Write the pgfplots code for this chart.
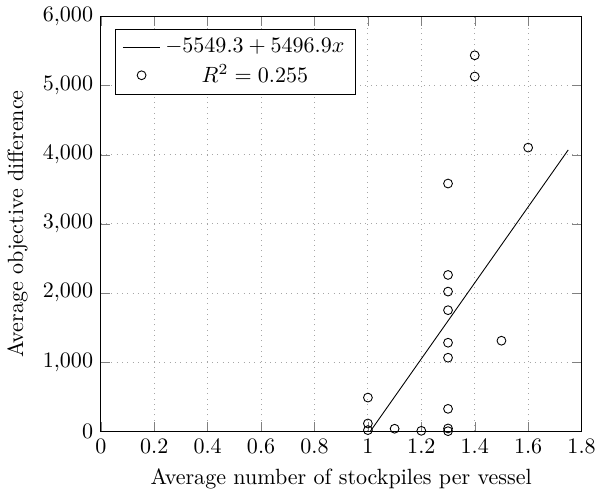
\documentclass[border=0pt]{standalone}
\usepackage{pgfplots}
\pgfplotsset{compat=1.18}
\begin{document}
\begin{tikzpicture}
\begin{axis}[
  scale only axis,
  width=218pt, height=188pt,
  xmin=0, xmax=1.8, ymin=0, ymax=6000,
  xtick={0,0.2,...,1.8},
  ytick={0,1000,...,6000},
  scaled y ticks=false,
  grid=major,
  grid style={dotted, gray!70},
  xlabel={Average number of stockpiles per vessel},
  ylabel={Average objective difference},
  legend pos=north west,
  legend cell align=center,
]
\addplot[black, no markers] coordinates {(1.0,-52.4) (1.75,4070.3)};
\addlegendentry{$-5549.3 + 5496.9x$}
\addplot[only marks, mark=o, black] coordinates {
(1.0,486) (1.0,111) (1.0,15)
(1.1,35) (1.2,5)
(1.3,39) (1.3,0) (1.3,323) (1.3,1063) (1.3,1280) (1.3,1751) (1.3,2020) (1.3,2261) (1.3,3584)
(1.4,5133) (1.4,5440)
(1.5,1309)
(1.6,4104)
};
\addlegendentry{$R^2 = 0.255$}
\end{axis}
\end{tikzpicture}
\end{document}
